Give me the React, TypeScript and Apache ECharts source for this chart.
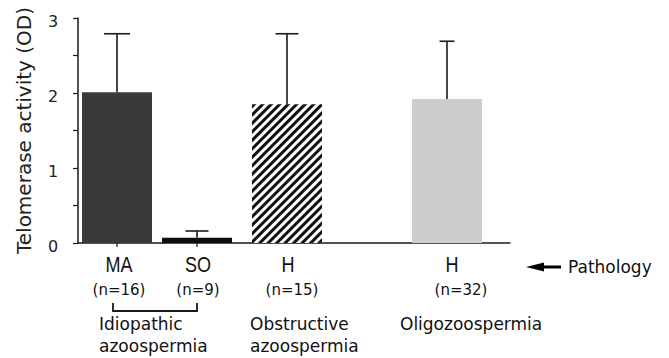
import React, { useEffect, useRef } from "react";
import * as echarts from "echarts";

// ---- data ----
const categories = ["MA", "SO", "H", "H"];
const sampleSizes = ["(n=16)", "(n=9)", "(n=15)", "(n=32)"];
const positions = [39, 119, 209, 369]; // position of each bar along the x scale
const means = [2.01, 0.07, 1.85, 1.92];
const upperErrors = [2.79, 0.16, 2.79, 2.69];
const groupLabels = [
  ["Idiopathic", "azoospermia"],
  ["Obstructive", "azoospermia"],
  ["Oligozoospermia"],
];
const groupAnchor = [0, 2, 3]; // category each group label sits under
const yTickValues = [0, 1, 2, 3];
const yTickLabels = ["0", "1", "2", "3"];
const yAxisTitle = "Telomerase activity (OD)";
const arrowLabel = "Pathology";

// ---- styling (not data) ----
const barStyles = [
  { color: "#3a3a3a" },
  { color: "#0d0d0d" },
  {
    color: "#ffffff",
    decal: {
      symbol: "rect",
      color: "#111",
      dashArrayX: [[1, 0]],
      dashArrayY: [2.3, 2.1],
      rotation: -Math.PI / 4,
      symbolSize: 1,
    },
  },
  { color: "#cdcdcd" },
];
const capWidths = [26, 23, 23, 15];
const nameDx = [2, 1, 1, 5];
const nDx = [2, 1, 5, 14];
const groupDx = [-18, -37, -47];

export default function App() {
  const ref = useRef<HTMLDivElement>(null);
  useEffect(() => {
    if (!ref.current) return;
    const chart = echarts.init(ref.current, null, { renderer: "svg" });
    const option: any = {
      animation: false,
      backgroundColor: "#ffffff",
      grid: { left: 78, right: 159, top: 18, bottom: 115, containLabel: false },
      xAxis: {
        type: "value",
        min: 0,
        max: 432,
        axisLine: { show: true, onZero: false, lineStyle: { color: "#1a1a1a", width: 1.5 } },
        axisTick: { show: false },
        axisLabel: { show: false },
        splitLine: { show: false },
      },
      yAxis: {
        type: "value",
        min: 0,
        max: 3,
        interval: 0.5,
        name: yAxisTitle,
        nameLocation: "middle",
        nameGap: 44,
        nameMoveOverlap: false,
        nameRotate: 90,
        nameTextStyle: { fontFamily: "DejaVu Sans", fontSize: 20, color: "#222" },
        axisLine: { show: true, lineStyle: { color: "#1a1a1a", width: 1.5 } },
        axisTick: { show: true, inside: false, length: 5, lineStyle: { color: "#1a1a1a", width: 1.2 } },
        axisLabel: { show: false },
        splitLine: { show: false },
      },
      series: [
        {
          type: "bar",
          barWidth: 70,
          data: means.map((m, i) => ({ value: [positions[i], m], itemStyle: barStyles[i] })),
        },
        {
          type: "custom",
          clip: false,
          data: means.map((m, i) => [positions[i], m, upperErrors[i], i]),
          renderItem: (params: any, api: any) => {
            const x = api.value(0);
            const i = api.value(3);
            const p0 = api.coord([x, api.value(1)]);
            const p1 = api.coord([x, api.value(2)]);
            const hw = capWidths[i] / 2;
            const st = { stroke: "#1a1a1a", lineWidth: 1.6 };
            return {
              type: "group",
              children: [
                { type: "line", shape: { x1: p0[0], y1: p0[1], x2: p1[0], y2: p1[1] }, style: st },
                { type: "line", shape: { x1: p1[0] - hw, y1: p1[1], x2: p1[0] + hw, y2: p1[1] }, style: st },
              ],
            };
          },
          z: 3,
        },
        {
          // y tick labels, placed through the y scale
          type: "custom",
          clip: false,
          silent: true,
          data: yTickValues.map((v, i) => [0, v, i]),
          renderItem: (params: any, api: any) => {
            const p = api.coord([0, api.value(1)]);
            return {
              type: "text",
              x: p[0] - 30,
              y: p[1] + 3,
              style: {
                text: yTickLabels[api.value(2)],
                fontFamily: "DejaVu Sans",
                fontSize: 16,
                fill: "#222",
                align: "left",
                verticalAlign: "middle",
              },
            };
          },
        },
        {
          type: "custom",
          clip: false,
          silent: true,
          data: categories.map((c, i) => [positions[i], 0, i]),
          renderItem: (params: any, api: any) => {
            const i = api.value(2);
            const p = api.coord([api.value(0), 0]);
            const children: any[] = [
              {
                type: "text",
                x: p[0] + nameDx[i],
                y: p[1] + 21,
                scaleX: 0.82,
                style: {
                  text: categories[i],
                  fontFamily: "Liberation Sans",
                  fontSize: 22,
                  fill: "#111",
                  align: "center",
                  verticalAlign: "middle",
                },
              },
              {
                type: "text",
                x: p[0] + nDx[i],
                y: p[1] + 47,
                style: {
                  text: sampleSizes[i],
                  fontFamily: "DejaVu Sans",
                  fontSize: 15,
                  fill: "#111",
                  align: "center",
                  verticalAlign: "middle",
                },
              },
            ];
            if (i < 2) {
              children.push({
                type: "line",
                shape: { x1: p[0], y1: p[1], x2: p[0], y2: p[1] + 4 },
                style: { stroke: "#1a1a1a", lineWidth: 1.2 },
              });
            }
            return { type: "group", children };
          },
        },
        {
          type: "custom",
          clip: false,
          silent: true,
          data: groupLabels.map((g, gi) => [positions[groupAnchor[gi]], 0, gi]),
          renderItem: (params: any, api: any) => {
            const gi = api.value(2);
            const p = api.coord([api.value(0), 0]);
            const children: any[] = groupLabels[gi].map((t, li) => ({
              type: "text",
              x: p[0] + groupDx[gi],
              y: p[1] + 81 + li * 22,
              style: {
                text: t,
                fontFamily: "DejaVu Sans",
                fontSize: 17,
                fill: "#111",
                align: "left",
                verticalAlign: "middle",
              },
            }));
            if (gi === 0) {
              const a = api.coord([positions[0], 0]);
              const b = api.coord([positions[1], 0]);
              const yTop = p[1] + 60;
              const yBot = p[1] + 68;
              children.push({
                type: "polyline",
                shape: {
                  points: [
                    [a[0] - 4, yTop],
                    [a[0] - 4, yBot],
                    [b[0], yBot],
                    [b[0], yTop],
                  ],
                },
                style: { stroke: "#1a1a1a", lineWidth: 1.8, fill: null },
              });
            }
            return { type: "group", children };
          },
        },
      ],
      graphic: [
        {
          type: "polygon",
          shape: { points: [[526, 267], [544, 262.5], [544, 271.5]] },
          style: { fill: "#000" },
        },
        {
          type: "rect",
          shape: { x: 542, y: 265.5, width: 19, height: 3 },
          style: { fill: "#000" },
        },
        {
          type: "text",
          x: 568,
          y: 267,
          style: {
            text: arrowLabel,
            fontFamily: "DejaVu Sans",
            fontSize: 17,
            fill: "#111",
            align: "left",
            verticalAlign: "middle",
          },
        },
      ],
    };
    chart.setOption(option);
    return () => chart.dispose();
  }, []);
  return <div ref={ref} style={{ width: 669, height: 358, position: "absolute", left: 0, top: 0 }} />;
}
